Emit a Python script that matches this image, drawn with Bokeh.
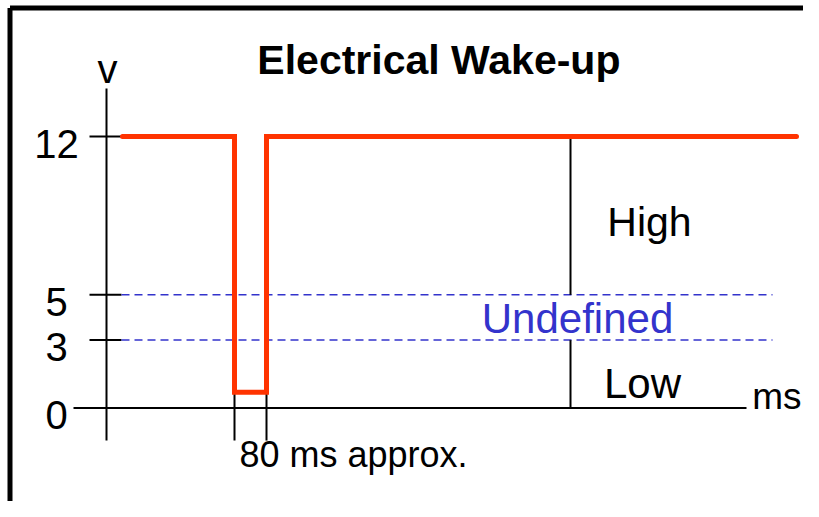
from bokeh.plotting import figure
from bokeh.models import Range1d
from bokeh.core.properties import value
from bokeh.embed import file_html
from bokeh.resources import INLINE

# ---- data (time in ms, level in volts) ----
wave_t = [40, 320, 320, 400, 400, 1725]
wave_v = [12, 12, 0.7, 0.7, 12, 12]
y_ticks = [0, 3, 5, 12]
y_tick_labels = ["0", "3", "5", "12"]
thresholds = [3, 5]
pulse_edges = [320, 400]
pulse_low = 0.7
high_level = 12
axis_t_end = 1600
marker_t = 1160
dash_t_end = 1665
title_text = "Electrical Wake-up"
y_unit = "v"
x_unit = "ms"
pulse_note = "80 ms approx."
zone_labels = ["High", "Undefined", "Low"]

FONT = value("Liberation Sans")
RED = "#FF3300"
BLUE = "#3333CC"
RAISE = 0.62  # baseline correction for text glyphs (volts)

p = figure(width=803, height=501, output_backend="svg", toolbar_location=None,
           x_axis_location=None, y_axis_location=None,
           x_range=Range1d(-265, 1742.5), y_range=Range1d(-4.133, 18.011),
           min_border=0)
p.grid.visible = False
p.outline_line_color = None
p.background_fill_color = "white"
p.border_fill_color = "white"

# frame border (left and top)
p.segment(x0=[-241.25, -241.25], y0=[-10, 17.68], x1=[-241.25, 3000], y1=[17.68, 17.68],
          line_color="black", line_width=5)

# y axis
p.segment(x0=[0], y0=[-1.44], x1=[0], y1=[14.12], line_color="black", line_width=2)
# x axis (0 V)
p.segment(x0=[-82.5], y0=[0], x1=[axis_t_end], y1=[0], line_color="black", line_width=2)
# ticks for 3, 5, 12
tick_vals = [v for v in y_ticks if v != 0]
p.segment(x0=[-42.5] * len(tick_vals), y0=tick_vals, x1=[37.5] * len(tick_vals), y1=tick_vals,
          line_color="black", line_width=2)
# tick labels
p.text(x=[-125] * len(y_ticks), y=[v - 0.93 + RAISE for v in y_ticks], text=y_tick_labels,
       text_font=FONT, text_font_size="40px", text_align="center",
       text_baseline="alphabetic", text_color="black")

# threshold dashed lines
p.segment(x0=[37.5] * len(thresholds), y0=thresholds, x1=[dash_t_end] * len(thresholds),
          y1=thresholds, line_color=BLUE, line_width=1.5, line_dash="8 5")

# marker line separating zones
p.segment(x0=[marker_t, marker_t], y0=[high_level, thresholds[0]],
          x1=[marker_t, marker_t], y1=[thresholds[1], 0],
          line_color="black", line_width=2)

# pulse width markers
p.segment(x0=pulse_edges, y0=[pulse_low] * 2, x1=pulse_edges, y1=[-1.44] * 2,
          line_color="black", line_width=2)

# waveform
p.line(wave_t, wave_v, line_color=RED, line_width=5, line_join="miter", line_cap="round")

# texts
p.text(x=[831], y=[14.74 + RAISE], text=[title_text], text_font=FONT, text_font_style="bold",
       text_font_size="41px", text_align="center", text_baseline="alphabetic")
p.text(x=[2.5], y=[14.36 + RAISE], text=[y_unit], text_font=FONT, text_font_size="40px",
       text_align="center", text_baseline="alphabetic")
p.text(x=[1357.5], y=[7.58 + RAISE], text=[zone_labels[0]],
       text_font=FONT, text_font_size="41px", text_align="center", text_baseline="alphabetic")
p.text(x=[1340], y=[0.464 + RAISE], text=[zone_labels[2]],
       text_font=FONT, text_font_size="42px", text_align="center", text_baseline="alphabetic")
p.text(x=[1177.5], y=[3.337 + RAISE], text=[zone_labels[1]], text_font=FONT, text_font_size="42px",
       text_align="center", text_baseline="alphabetic", text_color=BLUE)
p.text(x=[1676], y=[-0.11 + RAISE], text=[x_unit], text_font=FONT, text_font_size="37px",
       text_align="center", text_baseline="alphabetic")
p.text(x=[617.5], y=[-2.674 + RAISE], text=[pulse_note], text_font=FONT, text_font_size="36px",
       text_align="center", text_baseline="alphabetic")

open("out.html", "w").write(file_html(p, INLINE))
